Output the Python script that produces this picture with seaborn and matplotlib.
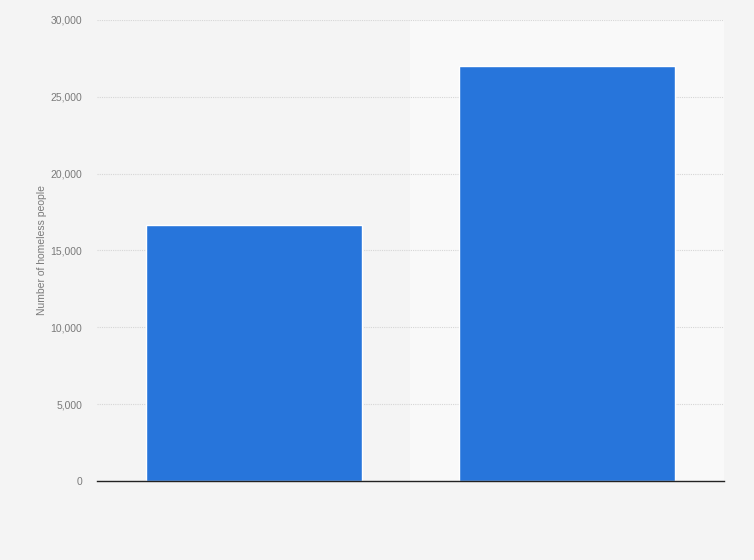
import pandas as pd
import matplotlib.pyplot as plt
import seaborn as sns
from matplotlib.ticker import FuncFormatter

# Valores (rótulos do eixo x não aparecem na imagem)
categorias = ['Group A', 'Group B']
pessoas = [16650, 27000]

dados = pd.DataFrame({'Categoria': categorias, 'Pessoas': pessoas})

sns.set_style('white')
plt.rcParams['font.family'] = ['Liberation Sans', 'DejaVu Sans']

fig = plt.figure(figsize=(7.54, 5.6), dpi=100, facecolor='#f4f4f4')
ax = fig.add_axes([0.1286, 0.1411, 0.8316, 0.8232])
ax.set_facecolor('#f4f4f4')

# Faixa mais clara atrás da segunda categoria
ax.axvspan(0.5, 1.5, color='#f9f9f9', zorder=0)

sns.barplot(data=dados, x='Categoria', y='Pessoas', color='#2775db',
            width=0.69, saturation=1, ax=ax, zorder=3)

ax.set_xlim(-0.5, 1.5)
ax.set_ylim(0, 30000)
ax.set_yticks(range(0, 30001, 5000))
ax.yaxis.set_major_formatter(FuncFormatter(lambda v, p: f'{int(v):,}'))
ax.grid(axis='y', color='#d6d6d6', linestyle=(0, (1, 1)), linewidth=0.8, zorder=1)
ax.set_axisbelow(True)

for lado in ['top', 'right', 'left']:
    ax.spines[lado].set_visible(False)
ax.spines['bottom'].set_color('#222222')
ax.spines['bottom'].set_linewidth(1.0)
ax.spines['bottom'].set_zorder(5)

ax.set_xticks([0, 1])
ax.set_xticklabels(['', ''])
ax.tick_params(axis='x', length=0)
ax.tick_params(axis='y', length=0, labelsize=7.5, labelcolor='#7a7a7a', pad=10.5)
ax.set_xlabel('')
ax.set_ylabel('Number of homeless people', fontsize=7.5, color='#7a7a7a')
ax.yaxis.set_label_coords(-0.080, 0.5)

fig.savefig('out.png', dpi=100, facecolor=fig.get_facecolor())
